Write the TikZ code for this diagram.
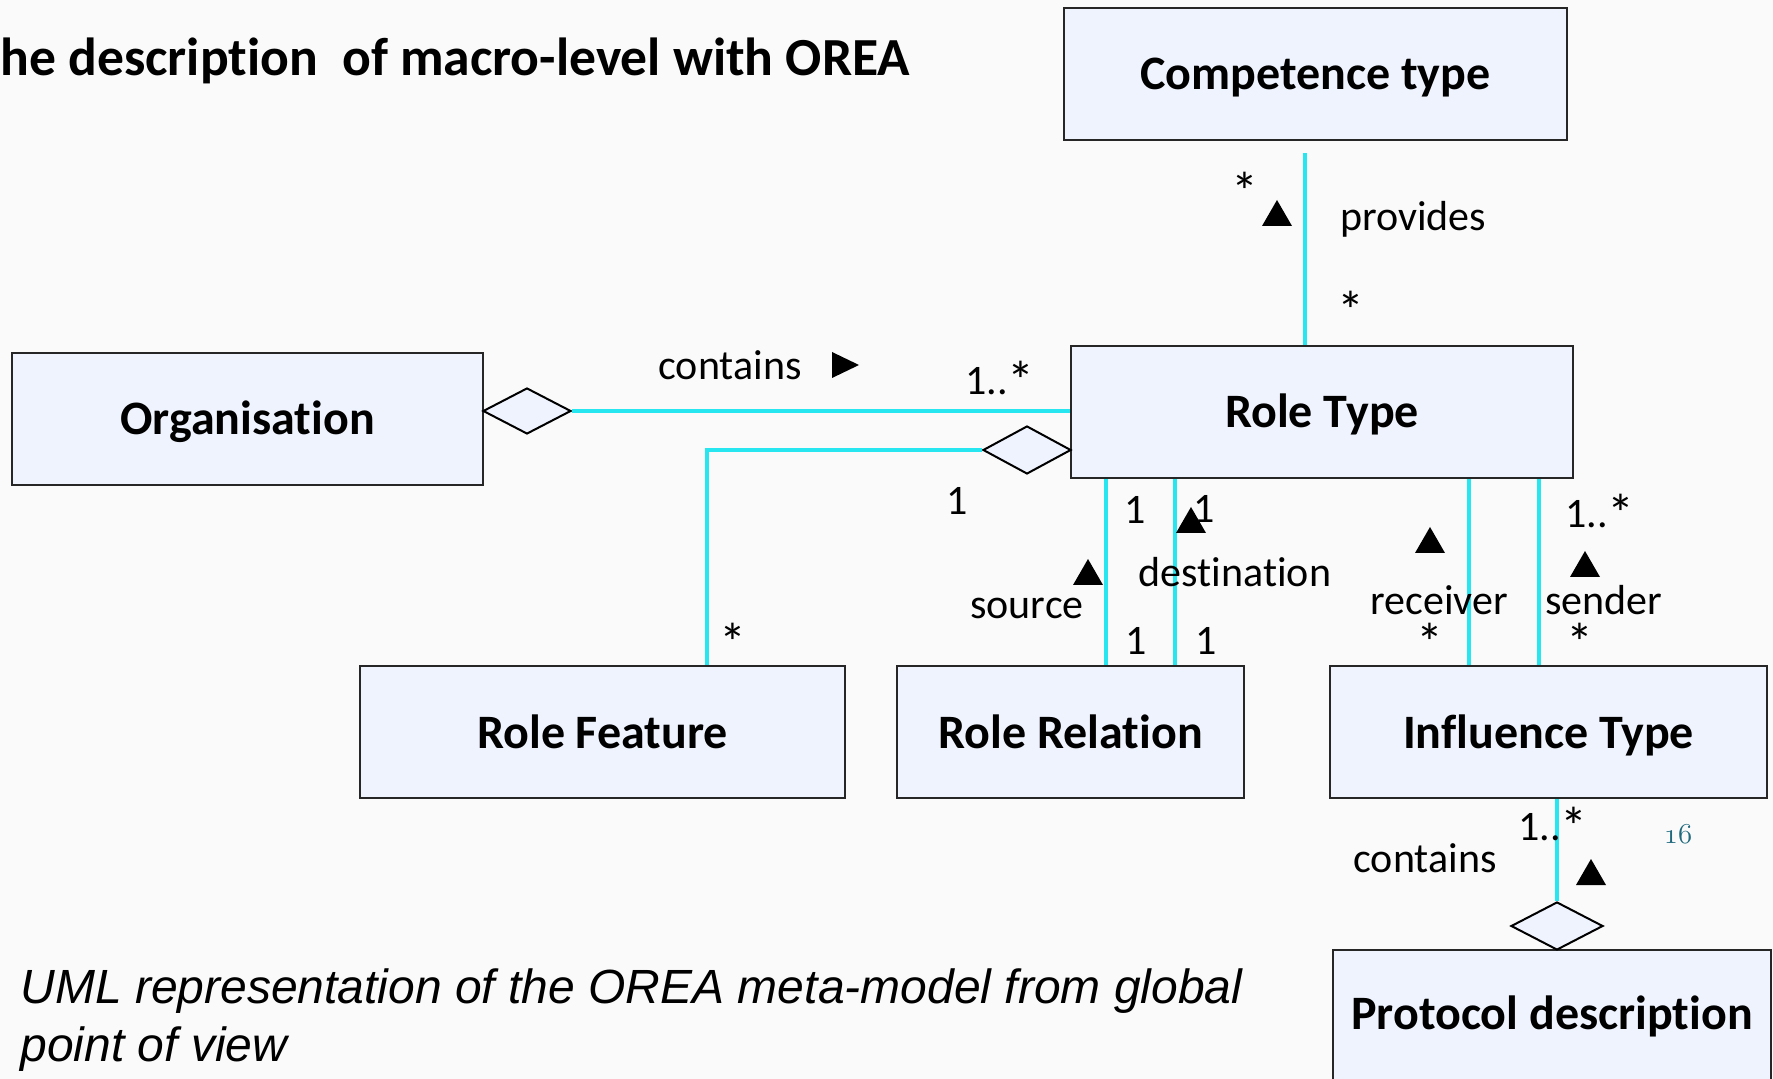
\documentclass[tikz,border=0pt]{standalone}
\usepackage{fontspec}
\setmainfont{Carlito}[Ligatures=NoCommon]
\newfontfamily\capfont{Liberation Sans}
\usetikzlibrary{shapes.geometric}
\definecolor{pagebg}{RGB}{250,250,250}
\definecolor{boxfill}{RGB}{239,243,253}
\definecolor{linkcyan}{RGB}{40,230,240}
\definecolor{pagenum}{RGB}{31,105,125}
% a larger asterisk for multiplicities
\newcommand\mstar{\raisebox{-2.5pt}{\fontsize{27}{30}\selectfont *}}
\begin{document}
\begin{tikzpicture}[x=0.5pt,y=-0.5pt,
  cls/.style={draw=black!85, line width=1.1pt, fill=boxfill, minimum height=66pt,
    inner sep=0pt, text height=18pt, text depth=2pt,
    font=\fontsize{24}{28}\selectfont\bfseries},
  agg/.style={diamond, draw=black, line width=1pt, fill=boxfill, inner sep=0pt,
    minimum width=44pt, minimum height=23pt},
  assoc/.style={draw=linkcyan, line width=1.6pt},
  lbl/.style={anchor=base, inner sep=0pt, font=\fontsize{21}{25}\selectfont},
  uptri/.pic={\fill (-15,13) -- (15,13) -- (0,-13) -- cycle;},
  righttri/.pic={\fill (-13,-13) -- (-13,13) -- (14,0) -- cycle;}]

\useasboundingbox (0,0) rectangle (1773,1079);
\clip (0,0) rectangle (1773,1079);
\fill[pagebg] (0,0) rectangle (1773,1079);

% title and caption
\node[anchor=base west, inner sep=0pt, font=\fontsize{26.8}{30}\selectfont\bfseries]
  (title) at (0,76) {he description\ \ of macro-level with OREA};
\node[anchor=base west, inner sep=0pt, font=\capfont\itshape\fontsize{24}{29}\selectfont]
  (cap1) at (20,1003) {UML representation of the OREA meta-model from global};
\node[anchor=base west, inner sep=0pt, font=\capfont\itshape\fontsize{24}{29}\selectfont]
  (cap2) at (20,1061) {point of view};
\node[anchor=base, inner sep=0pt, text=pagenum, font=\fontsize{15}{17}\selectfont]
  (pg) at (1678,843) {\usefont{OML}{cmm}{m}{it}16};

% classes
\node[cls, minimum width=251.5pt] (comp) at (1315.5,74)  {Competence type};
\node[cls, minimum width=235.5pt] (org)  at (247.5,419)  {Organisation};
\node[cls, minimum width=251pt]   (rt)   at (1322,412)   {Role Type};
\node[cls, minimum width=242.5pt] (rf)   at (602.5,732)  {Role Feature};
\node[cls, minimum width=173.5pt] (rr)   at (1070.5,732) {Role Relation};
\node[cls, minimum width=218.5pt] (it)   at (1548.5,732) {Influence Type};
\node[cls, minimum width=219pt, text height=17pt, text depth=4pt]
  (pd) at (1552,1016) {Protocol description};

% x positions of the vertical links
\coordinate (xprov) at (1305,0);
\coordinate (xfeat) at (707,0);
\coordinate (xsrc)  at (1106,0);
\coordinate (xdst)  at (1175,0);
\coordinate (xrcv)  at (1469,0);
\coordinate (xsnd)  at (1539,0);
\coordinate (xprot) at (1557,0);

% aggregation diamonds
\node[agg] (d1) at (527,411) {};
\node[agg, minimum height=24pt] (d2) at (1027,450) {};
\node[agg, minimum width=46pt, minimum height=24pt] (d3) at (1557,926) {};

% associations
\draw[assoc] ([yshift=-6pt]comp.south -| xprov) -- (rt.north -| xprov);
\draw[assoc] (d1.east) -- (d1.east -| rt.west);
\draw[assoc] (d2.west) -| (rf.north -| xfeat);
\draw[assoc] (rt.south -| xsrc) -- (rr.north -| xsrc);
\draw[assoc] (rt.south -| xdst) -- (rr.north -| xdst);
\draw[assoc] (rt.south -| xrcv) -- (it.north -| xrcv);
\draw[assoc] (rt.south -| xsnd) -- (it.north -| xsnd);
\draw[assoc] (it.south -| xprot) -- (d3.north);

% provides
\node[lbl] (m1) at (1245,206) {\mstar};
\pic at (1277,213) {uptri};
\node[lbl] (n1) at (1413,231) {provides};
\node[lbl] (m2) at (1351,325) {\mstar};

% contains (organisation)
\node[lbl] (n2) at (730,380) {contains};
\pic at (845,365) {righttri};
\node[lbl] (m3) at (1000,395) {1..\mstar};

% role feature
\node[lbl] (m4) at (957,515) {1};
\node[lbl] (m5) at (733,657) {\mstar};

% role relation
\node[lbl] (m6) at (1135,524) {1};
\pic at (1191,520) {uptri};
\node[lbl] (m7) at (1204,523) {1};
\pic at (1088,572) {uptri};
\node[lbl] (n3) at (1235,587) {destination};
\node[lbl] (n4) at (1027,619) {source};
\node[lbl] (m8) at (1136,655) {1};
\node[lbl] (m9) at (1206,655) {1};

% influence type
\pic at (1430,540) {uptri};
\node[lbl] (n5) at (1439,615) {receiver};
\node[lbl] (m10) at (1430,656) {\mstar};
\node[lbl] (m11) at (1600,528) {1..\mstar};
\pic at (1585,564) {uptri};
\node[lbl] (n6) at (1604,615) {sender};
\node[lbl] (m12) at (1580,656) {\mstar};

% contains (protocol)
\node[lbl] (m13) at (1553,840) {1..\mstar};
\node[lbl] (n7) at (1425,872) {contains};
\pic at (1591,872) {uptri};

\end{tikzpicture}
\end{document}
